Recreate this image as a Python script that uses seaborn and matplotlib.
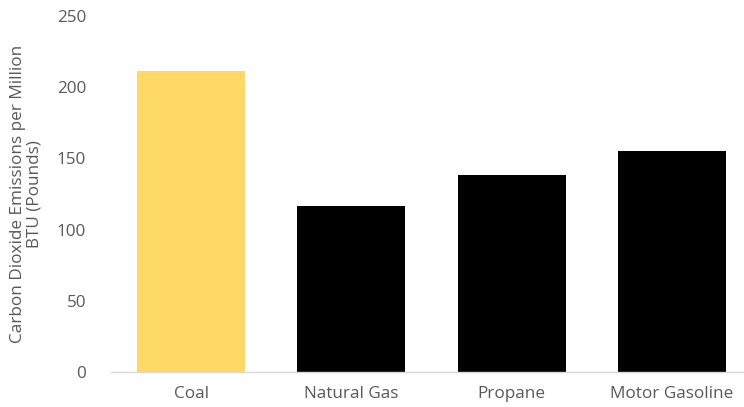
import matplotlib
matplotlib.use("Agg")
import matplotlib.pyplot as plt
import seaborn as sns
import pandas as pd

categories = ["Coal", "Natural Gas", "Propane", "Motor Gasoline"]
values = [211.6, 116.6, 138.5, 155.5]
colors = ["#FFD966", "#000000", "#000000", "#000000"]
yticks = [0, 50, 100, 150, 200, 250]

df = pd.DataFrame({"fuel": categories, "co2": values})

sns.set_theme(style="white")
plt.rcParams["font.family"] = ["Open Sans", "DejaVu Sans"]

fig = plt.figure(figsize=(7.44, 4.07), dpi=100)
ax = fig.add_axes([111/744, 1-372/407, (752-111)/744, (372-16)/407])

sns.barplot(data=df, x="fuel", y="co2", hue="fuel", palette=colors,
            width=0.675, legend=False, ax=ax, saturation=1, edgecolor="none")

ax.set_ylim(0, 250)
ax.set_yticks(yticks)
ax.set_yticklabels([str(t) for t in yticks])
ax.set_xlabel("")
ax.set_ylabel("Carbon Dioxide Emissions per Million\nBTU (Pounds)", color="#595959",
              fontsize=12.3, labelpad=10, linespacing=1.05)
ax.tick_params(axis="both", length=0, labelsize=12.3, colors="#595959")
ax.tick_params(axis="y", pad=18)
ax.tick_params(axis="x", pad=10)
for s in ["top", "right", "left"]:
    ax.spines[s].set_visible(False)
ax.spines["bottom"].set_color("#D9D9D9")
ax.spines["bottom"].set_linewidth(1)
ax.grid(False)

fig.savefig("out.png", dpi=100)
